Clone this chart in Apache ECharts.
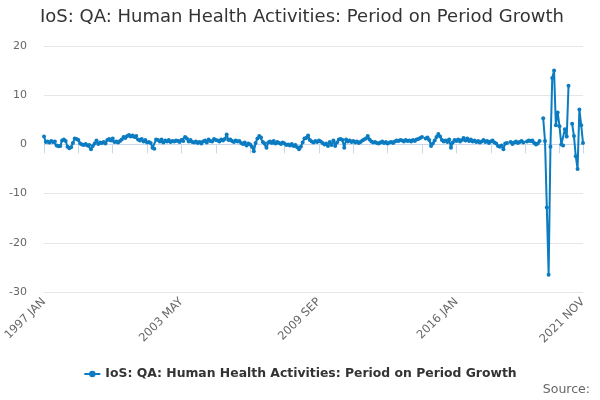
<!DOCTYPE html>
<html>
<head>
<meta charset="utf-8">
<script src="https://cdn.jsdelivr.net/npm/echarts@6/dist/echarts.min.js"></script>
<style>
  html, body { margin: 0; padding: 0; background: #fff; }
  #chart { width: 600px; height: 400px; }
</style>
</head>
<body>
<div id="chart"></div>
<script>
var seriesName = 'IoS: QA: Human Health Activities: Period on Period Growth';
var monthNames = ['JAN', 'FEB', 'MAR', 'APR', 'MAY', 'JUN', 'JUL', 'AUG', 'SEP', 'OCT', 'NOV', 'DEC'];
var firstYear = 1997;
var lastYear = 2021;
var lastMonth = 11; // 2021 NOV

// monthly growth, % (null = gap in the line)
var growth = [
    // 1997
    1.6, 0.5, 0.6, 0.4, 0.7, 0.5, 0.6, -0.2, -0.4, -0.3, 0.8, 1.0,
    // 1998
    0.7, -0.5, -0.8, -0.6, 0.3, 1.2, 1.1, 0.9, 0.2, 0.0, -0.1, 0.1,
    // 1999
    -0.2, -0.1, -1.0, -0.3, 0.2, 0.8, 0.1, 0.4, 0.3, 0.5, 0.2, 0.9,
    // 2000
    1.1, 0.8, 1.2, 0.5, 0.6, 0.4, 0.7, 1.0, 1.5, 1.3, 1.7, 1.9,
    // 2001
    1.6, 1.8, 1.5, 1.7, 1.0, 0.8, 1.1, 0.6, 0.9, 0.4, 0.5, 0.3,
    // 2002
    -0.7, -0.9, 1.0, 0.9, 0.6, 1.0, 0.4, 0.8, 0.6, 0.9, 0.5, 0.7,
    // 2003
    0.6, 0.8, 0.7, 0.5, 0.9, 0.7, 1.5, 1.2, 0.6, 0.9, 0.5, 0.4,
    // 2004
    0.6, 0.3, 0.5, 0.2, 0.6, 0.8, 0.4, 1.0, 0.7, 0.6, 1.1, 0.9,
    // 2005
    0.8, 0.6, 1.0, 0.8, 1.1, 2.0, 0.9, 1.0, 0.7, 0.5, 0.8, 0.6,
    // 2006
    0.7, 0.3, 0.1, 0.4, -0.2, 0.2, 0.0, -0.5, -1.4, 0.3, 1.2, 1.7,
    // 2007
    1.4, 0.5, 0.2, -0.7, 0.4, 0.6, 0.3, 0.7, 0.2, 0.5, 0.3, 0.1,
    // 2008
    0.4, 0.2, -0.1, 0.0, -0.2, 0.1, -0.3, -0.1, -0.6, -1.0, -0.5, 0.4,
    // 2009
    1.2, 1.3, 1.8, 0.9, 0.6, 0.4, 0.7, 0.5, 0.8, 0.6, 0.3, 0.0,
    // 2010
    0.2, -0.3, 0.5, -0.1, 0.8, -0.3, 0.4, 1.0, 1.1, 0.9, -0.7, 1.0,
    // 2011
    0.6, 0.8, 0.5, 0.7, 0.4, 0.6, 0.3, 0.5, 0.8, 1.0, 1.2, 1.7,
    // 2012
    1.0, 0.6, 0.4, 0.5, 0.3, 0.2, 0.4, 0.6, 0.3, 0.5, 0.2, 0.4,
    // 2013
    0.5, 0.3, 0.6, 0.8, 0.7, 0.9, 0.8, 0.6, 0.9, 0.7, 0.8, 0.6,
    // 2014
    0.9, 0.7, 1.0, 1.1, 1.3, 1.5, null, 1.2, 1.4, 0.9, -0.3, 0.2,
    // 2015
    0.8, 1.5, 2.1, 1.6, 0.9, 0.6, 0.8, 0.5, 1.0, -0.7, 0.4, 0.9,
    // 2016
    0.7, 1.0, 0.6, 0.9, 1.3, 0.8, 1.2, 0.7, 1.0, 0.6, 0.8, 0.5,
    // 2017
    0.7, 0.4, 0.6, 0.9, 0.5, 0.7, 0.3, 0.6, 0.8, 0.4, 0.2, -0.3,
    // 2018
    -0.5, -0.2, -1.0, 0.2, 0.3, null, 0.5, 0.1, 0.4, 0.6, 0.3, 0.5,
    // 2019
    0.7, 0.4, null, 0.6, 0.8, 0.7, 0.8, 0.3, 0.0, 0.2, 0.7, null,
    // 2020
    5.3, 0.7, -12.8, -26.5, -0.5, 13.5, 15.0, 3.9, 6.5, 3.7, 0.0, -0.2,
    // 2021
    3.1, 1.6, 11.9, null, 4.2, 1.7, -2.4, -5.0, 7.1, 3.9, 0.3
];

var yTicks = { min: -30, max: 20, step: 10 };
var tickEvery = 19;   // months between x ticks
var labelEvery = 76;  // months between x labels

var categories = [];
for (var y = firstYear; y <= lastYear; y++) {
    var mEnd = (y === lastYear) ? lastMonth : 12;
    for (var m = 0; m < mEnd; m++) {
        categories.push(y + ' ' + monthNames[m]);
    }
}
var lastIndex = categories.length - 1;

var chart = echarts.init(document.getElementById('chart'));
var font = 'DejaVu Sans';
var option = {
    animation: false,
    title: {
        text: seriesName,
        left: 35,
        top: 3,
        textStyle: { fontFamily: font, fontSize: 18, fontWeight: 'normal', color: '#333333' }
    },
    grid: { left: 44, right: 17, top: 46, bottom: 108, containLabel: false },
    legend: {
        bottom: 15,
        left: 'center',
        itemWidth: 16,
        itemHeight: 8,
        itemGap: 6,
        data: [seriesName],
        textStyle: { fontFamily: font, fontSize: 12.4, fontWeight: 'bold', color: '#333333' }
    },
    xAxis: {
        type: 'category',
        data: categories,
        boundaryGap: false,
        axisLine: { lineStyle: { color: '#ccd6eb' } },
        axisTick: {
            length: 9,
            lineStyle: { color: '#ccd6eb' },
            interval: function (i) { return i % tickEvery === 0 || i === lastIndex; }
        },
        axisLabel: {
            rotate: 45,
            margin: 8,
            fontFamily: font,
            fontSize: 11.5,
            color: '#666666',
            interval: function (i) { return i % labelEvery === 0 || i === lastIndex; }
        },
        splitLine: { show: false }
    },
    yAxis: {
        type: 'value',
        min: yTicks.min,
        max: yTicks.max,
        interval: yTicks.step,
        axisLine: { show: false },
        axisTick: { show: false },
        axisLabel: { margin: 17, fontFamily: font, fontSize: 11, color: '#666666' },
        splitLine: { lineStyle: { color: '#e6e6e6' } }
    },
    series: [{
        name: seriesName,
        type: 'line',
        data: growth,
        connectNulls: false,
        symbol: 'circle',
        symbolSize: 4,
        showAllSymbol: true,
        color: '#0b7cc1',
        lineStyle: { width: 2 },
        emphasis: { disabled: true }
    }],
    graphic: [{
        type: 'text',
        right: 10,
        bottom: 4,
        style: { text: 'Source:', fontFamily: font, fontSize: 12.5, fill: '#666666' }
    }]
};
chart.setOption(option);
</script>
</body>
</html>
